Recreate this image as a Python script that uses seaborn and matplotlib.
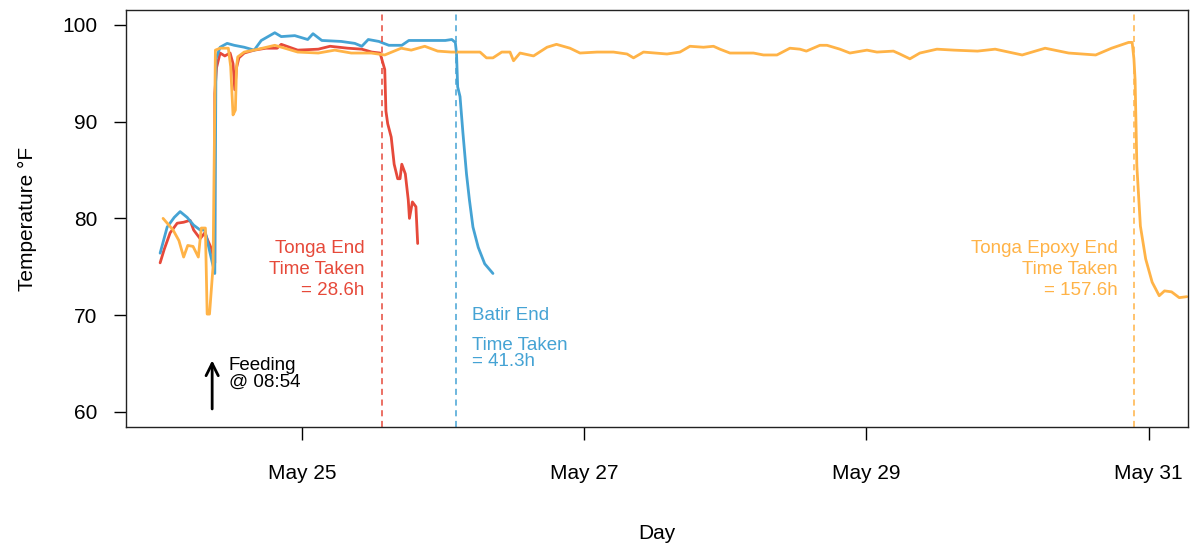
import numpy as np
import pandas as pd
import seaborn as sns
import matplotlib.pyplot as plt
import matplotlib.dates as mdates

# hours relative to feeding time (May 24 08:54)
feed_time = pd.Timestamp('2023-05-24 08:54')

tonga_hours = [-9.0, -8.3, -7.3, -6.1, -5.0, -3.9, -3.3, -2.2, -1.4, -0.8, -0.3, 0.3,
               0.3, 0.6, 1.2, 2.0, 2.9, 3.4, 3.7, 4.0, 4.4, 5.3, 7.0, 9.0, 10.9, 11.6,
               14.4, 17.9, 19.9, 22.9, 25.3, 27.0, 28.4, 29.2, 29.4, 29.7, 30.3, 30.8,
               31.4, 31.8, 32.1, 32.7, 33.2, 33.4, 33.9, 34.5, 34.8]
tonga_temp = [75.4, 76.8, 78.5, 79.5, 79.6, 79.8, 78.8, 77.9, 78.5, 77.6, 76.9, 75.4,
              92.9, 95.6, 97.1, 96.8, 97.1, 96.0, 93.3, 95.6, 96.6, 97.1, 97.4, 97.6, 97.6, 98.0,
              97.4, 97.5, 97.8, 97.6, 97.5, 97.2, 97.1, 95.4, 91.1, 89.8, 88.4, 85.6,
              84.1, 84.1, 85.6, 84.6, 81.9, 80.0, 81.7, 81.2, 77.4]

batir_hours = [-9.0, -7.8, -6.6, -5.6, -4.4, -3.3, -2.2, -1.4, -0.5, 0.3, 0.5, 1.2,
               2.4, 3.6, 5.3, 7.0, 8.2, 10.5, 11.6, 13.9, 16.1, 17.0, 18.5, 21.8,
               24.1, 25.3, 26.4, 28.2, 29.9, 32.1, 33.3, 36.7, 39.5, 40.6, 41.2,
               41.4, 41.6, 42.0, 42.5, 43.1, 43.6, 44.2, 45.1, 46.2, 47.6]
batir_temp = [76.4, 79.1, 80.1, 80.7, 80.1, 79.3, 78.8, 78.8, 76.4, 74.3, 96.5, 97.7,
              98.1, 97.9, 97.7, 97.4, 98.4, 99.2, 98.8, 98.9, 98.5, 99.1, 98.4, 98.3,
              98.1, 97.8, 98.5, 98.3, 97.9, 97.9, 98.4, 98.4, 98.4, 98.5, 98.2,
              97.1, 93.6, 92.6, 88.8, 84.6, 81.9, 79.1, 77.0, 75.3, 74.3]

epoxy_hours = [-8.5, -6.8, -5.8, -5.0, -4.3, -3.4, -2.5, -2.0, -1.3, -1.0, -0.6, 0.0,
               0.4, 1.2, 2.6, 3.0, 3.4, 3.8, 4.0, 4.2, 5.3, 7.7, 10.5, 12.2, 14.4,
               17.9, 20.7, 23.5, 26.9, 29.2, 32.0, 33.7, 36.0, 38.2, 40.5, 44.2,
               45.4, 46.5, 47.6, 49.1, 50.5, 51.1, 52.2, 54.5, 56.8, 58.4, 60.7,
               62.4, 65.3, 68.1, 70.4, 71.5, 73.2, 77.2, 79.4, 81.1, 83.4, 85.1,
               86.2, 87.9, 91.9, 93.6, 95.9, 98.1, 99.8, 100.9, 103.2, 104.4, 106.6,
               108.3, 111.2, 112.9, 115.7, 116.8, 118.5, 120.2, 123.1, 126.0, 130.0,
               133.0, 137.6, 141.5, 145.5, 150.1, 152.8, 155.7, 156.3, 156.6, 156.8,
               157.1, 157.7, 158.6, 159.7, 160.9, 161.8, 163.0, 164.3, 165.6]
epoxy_temp = [80.0, 78.8, 77.7, 76.0, 77.2, 77.1, 76.0, 79.0, 79.0, 70.1, 70.1, 75.0,
              97.4, 97.6, 97.6, 95.7, 90.7, 91.2, 95.7, 96.7, 97.2, 97.5, 97.9, 97.6, 97.2,
              97.1, 97.4, 97.1, 97.1, 96.9, 97.6, 97.4, 97.8, 97.3, 97.2, 97.2,
              97.2, 96.6, 96.6, 97.2, 97.2, 96.3, 97.1, 96.8, 97.7, 98.0, 97.6,
              97.1, 97.2, 97.2, 97.0, 96.6, 97.2, 97.0, 97.2, 97.8, 97.7, 97.8,
              97.5, 97.1, 97.1, 96.9, 96.9, 97.6, 97.5, 97.3, 97.9, 97.9, 97.5,
              97.1, 97.4, 97.2, 97.3, 97.0, 96.5, 97.1, 97.5, 97.4, 97.3,
              97.5, 96.9, 97.6, 97.1, 96.9, 97.6, 98.2, 98.2, 96.5, 94.3,
              85.4, 79.2, 75.8, 73.4, 72.0, 72.5, 72.4, 71.8, 71.9]

end_hours = [28.7, 41.3, 156.6]
series_names = ['Tonga', 'Batir', 'Tonga Epoxy']
colors = ['#E6493A', '#45A3D4', '#FFB347']

def to_time(h):
    return feed_time + pd.to_timedelta(np.asarray(h, dtype=float), unit='h')

frames = []
for name, hrs, tmp in zip(series_names,
                          [tonga_hours, batir_hours, epoxy_hours],
                          [tonga_temp, batir_temp, epoxy_temp]):
    frames.append(pd.DataFrame({'time': to_time(hrs), 'temp': tmp, 'series': name}))
df = pd.concat(frames, ignore_index=True)

sns.set_style('ticks')
plt.rcParams['font.family'] = ['Liberation Sans', 'DejaVu Sans']

fig = plt.figure(figsize=(11.91, 5.5), dpi=100)
ax = fig.add_axes([0.1058, 0.2236, 0.8917, 0.7582])

for name, col in zip(series_names, colors):
    sub = df[df['series'] == name]
    sns.lineplot(data=sub, x='time', y='temp', color=col, lw=2.0,
                 estimator=None, sort=False, ax=ax, legend=False)

for h, col in zip(end_hours, colors):
    ax.axvline(to_time([h])[0], color=col, lw=1.1, ls=(0, (4, 3)))

num = lambda h: mdates.date2num(to_time([h])[0])

ax.text(num(25.8), 74.7, 'Tonga End\nTime Taken\n= 28.6h', color=colors[0],
        ha='right', va='center', fontsize=13.5, linespacing=1.3)
ax.text(num(153.9), 74.7, 'Tonga Epoxy End\nTime Taken\n= 157.6h', color=colors[2],
        ha='right', va='center', fontsize=13.5, linespacing=1.3)
ax.text(num(44.0), 70.0, 'Batir End', color=colors[1], ha='left', va='center',
        fontsize=13.5)
ax.text(num(44.0), 66.0, 'Time Taken\n= 41.3h', color=colors[1], ha='left',
        va='center', fontsize=13.5, linespacing=0.95)
ax.text(num(2.7), 63.9, 'Feeding\n@ 08:54', color='black', ha='left', va='center',
        fontsize=13.5, linespacing=0.95)
ax.annotate('', xy=(num(-0.15), 65.6), xytext=(num(-0.15), 60.0),
            arrowprops=dict(arrowstyle='->', lw=2, color='black', mutation_scale=22))

ax.set_xlim(num(-14.8), num(165.8))
ax.set_ylim(58.42, 101.55)
ax.set_yticks([60, 70, 80, 90, 100])
ax.set_xticks([pd.Timestamp('2023-05-25'), pd.Timestamp('2023-05-27'),
               pd.Timestamp('2023-05-29'), pd.Timestamp('2023-05-31')])
ax.xaxis.set_major_formatter(mdates.DateFormatter('%b %d'))
ax.tick_params(axis='x', length=9.5, width=1, pad=17, labelsize=15,
               colors='black')
ax.tick_params(axis='y', length=8.6, width=1, pad=12, labelsize=15,
               colors='black')
for s in ax.spines.values():
    s.set_visible(True)
    s.set_color('#222222')
    s.set_linewidth(1.0)

ax.set_xlabel('Day', fontsize=15, labelpad=30, color='black')
ax.set_ylabel('Temperature °F', fontsize=15, labelpad=18, color='black')

fig.savefig('out.png', dpi=100)
